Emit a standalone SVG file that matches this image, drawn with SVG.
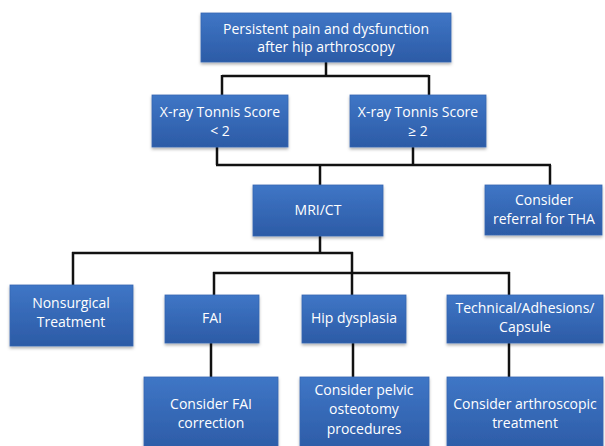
<svg xmlns="http://www.w3.org/2000/svg" width="605" height="446" viewBox="0 0 605 446">
<defs>
<linearGradient id="g" x1="0" y1="0" x2="0" y2="1">
<stop offset="0" stop-color="#3f76c6"/>
<stop offset="1" stop-color="#2c5ba6"/>
</linearGradient>
<filter id="sh" x="-10%" y="-10%" width="130%" height="140%">
<feDropShadow dx="0" dy="2" stdDeviation="1.5" flood-color="#000" flood-opacity="0.3"/>
</filter>
</defs>
<style>
.b{fill:url(#g);stroke:#3567b2;stroke-width:0.8;filter:url(#sh)}
.t{font-family:"Open Sans","Liberation Sans",Arial,sans-serif;font-size:14px;fill:#fff;text-anchor:middle}
.c{fill:none;stroke:#111;stroke-width:2.5}
</style>
<rect width="605" height="446" fill="#fff"/>
<g id="connectors">
<path class="c" d="M326 62V76M222 76H429M222 75V95M429 75V95"/>
<path class="c" d="M217 147V165M413 147V165M216 165H551M320 165V185M550 165V185"/>
<path class="c" d="M320 236V253M72 253H353M73 252V285M352 252V273M213 273H510M214 272V295M352 272V295M509 272V295"/>
<path class="c" d="M211 343V377M353 343V377M509 343V377"/>
</g>
<g id="n-top"><rect class="b" x="201" y="13" width="250" height="49"/><text class="t" x="326" y="34">Persistent pain and dysfunction</text><text class="t" x="326" y="52">after hip arthroscopy</text></g>
<g id="n-xray-lt"><rect class="b" x="152" y="95" width="136" height="52"/><text class="t" x="220" y="117">X-ray Tonnis Score</text><text class="t" x="220" y="136">&lt; 2</text></g>
<g id="n-xray-ge"><rect class="b" x="350" y="95" width="136" height="52"/><text class="t" x="418" y="117">X-ray Tonnis Score</text><text class="t" x="418" y="136">≥ 2</text></g>
<g id="n-mri"><rect class="b" x="253" y="185" width="130" height="51"/><text class="t" x="318" y="215">MRI/CT</text></g>
<g id="n-tha"><rect class="b" x="485" y="185" width="117" height="50"/><text class="t" x="544" y="205">Consider</text><text class="t" x="544" y="224">referral for THA</text></g>
<g id="n-nonsurg"><rect class="b" x="10" y="285" width="123" height="61"/><text class="t" x="71" y="308">Nonsurgical</text><text class="t" x="71" y="327">Treatment</text></g>
<g id="n-fai"><rect class="b" x="165" y="295" width="94" height="48"/><text class="t" x="212" y="323">FAI</text></g>
<g id="n-dysplasia"><rect class="b" x="302" y="295" width="104" height="48"/><text class="t" x="354" y="323">Hip dysplasia</text></g>
<g id="n-technical"><rect class="b" x="447" y="295" width="156" height="48"/><text class="t" x="525" y="313">Technical/Adhesions/</text><text class="t" x="525" y="332">Capsule</text></g>
<g id="n-fai-corr"><rect class="b" x="144" y="377" width="134" height="75"/><text class="t" x="211" y="409">Consider FAI</text><text class="t" x="211" y="428">correction</text></g>
<g id="n-pelvic"><rect class="b" x="300" y="377" width="129" height="75"/><text class="t" x="364" y="395">Consider pelvic</text><text class="t" x="364" y="414">osteotomy</text><text class="t" x="364" y="434">procedures</text></g>
<g id="n-arthro"><rect class="b" x="447" y="377" width="156" height="75"/><text class="t" x="525" y="409">Consider arthroscopic</text><text class="t" x="525" y="428">treatment</text></g>
</svg>
